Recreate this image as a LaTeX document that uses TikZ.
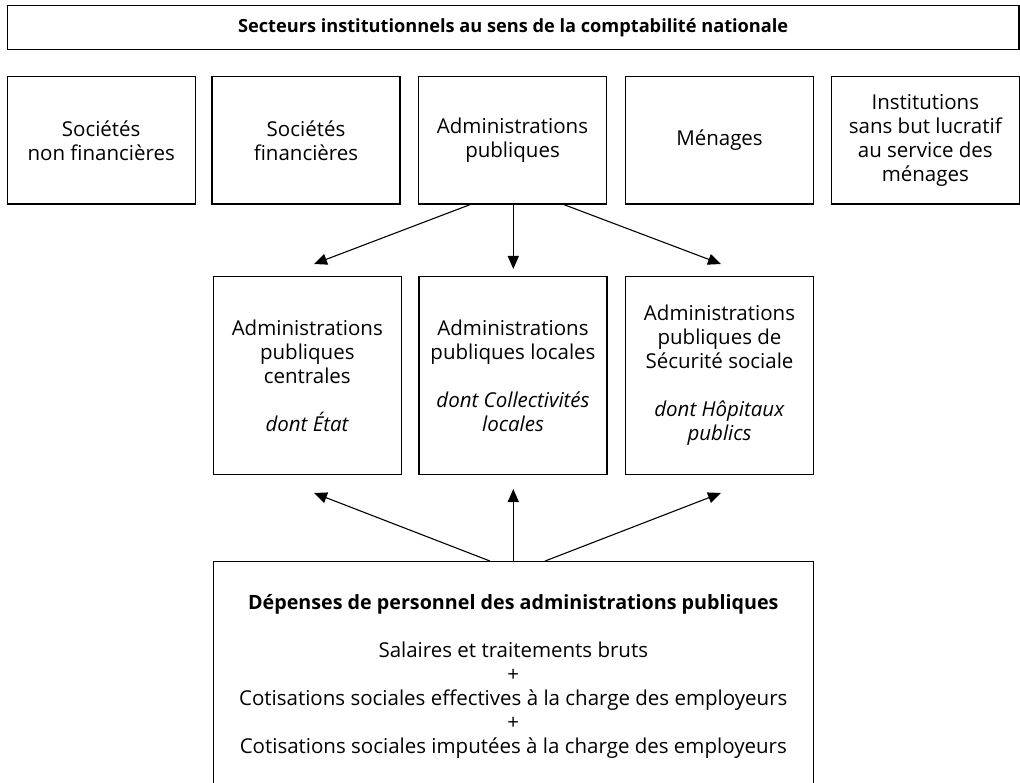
\documentclass[tikz,border=0pt]{standalone}
\usepackage{fontspec}
\setmainfont{Open Sans}
\usetikzlibrary{arrows.meta}
\begin{document}
\begin{tikzpicture}[x=1pt,y=-1pt,
  box/.style={draw, line width=1.3pt, inner sep=0pt, align=center,
    font=\fontsize{20.5}{24}\selectfont},
  rowbox/.style={box, minimum width=188pt, minimum height=127.3pt},
  midbox/.style={box, minimum width=188pt, minimum height=197.6pt},
  arr/.style={line width=1.1pt, -{Triangle[length=13pt,width=11pt]}}]
\clip (0,0) rectangle (1020,783);
\fill[white] (0,0) rectangle (1020,783);
% title
\node[box, minimum width=1011.7pt, minimum height=44pt, font=\fontsize{18.2}{24}\selectfont\bfseries] (title) at (513.15,27.7)
  {Secteurs institutionnels au sens de la comptabilité nationale};
% top row
\node[rowbox] (snf) at (101.2,140.35) {Sociétés\\non financières};
\node[rowbox] (sf) at (306,140.35) {Sociétés\\financières};
\node[rowbox] (ap) at (512.5,140.35) {Administrations\\publiques};
\node[rowbox] (men) at (719.5,140.35) {Ménages};
\node[rowbox] (isbl) at (925.3,140.35) {Institutions\\sans but lucratif\\au service des\\ménages};
% middle row
\node[midbox] (apc) at (307.3,375.5) {Administrations\\publiques\\centrales\\[24pt]\textit{dont État}};
\node[midbox] (apl) at (513,375.5) {Administrations\\publiques locales\\[24pt]\textit{dont Collectivités}\\\textit{locales}};
\node[midbox] (ass) at (719.5,375.5) {Administrations\\publiques de\\Sécurité sociale\\[24pt]\textit{dont Hôpitaux}\\\textit{publics}};
% bottom box
\node[box, minimum width=600pt, minimum height=230pt] (dep) at (513.3,676.7)
  {{\fontsize{19.7}{24}\selectfont\bfseries Dépenses de personnel des administrations publiques}\\[24pt]
   Salaires et traitements bruts\\+\\Cotisations sociales effectives à la charge des employeurs\\+\\Cotisations sociales imputées à la charge des employeurs};
% arrow tips
\coordinate (t1) at (314,264);
\coordinate (t2) at (513.3,269);
\coordinate (t3) at (721,264);
\coordinate (u1) at (314,493);
\coordinate (u2) at (513.3,489);
\coordinate (u3) at (721,493);
% arrows from Administrations publiques
\draw[arr] ([xshift=-42.5pt]ap.south) -- (t1);
\draw[arr] ([xshift=0.8pt]ap.south) -- (t2);
\draw[arr] ([xshift=51.5pt]ap.south) -- (t3);
% arrows from Dépenses
\draw[arr] ([xshift=-23.3pt]dep.north) -- (u1);
\draw[arr] (dep.north) -- (u2);
\draw[arr] ([xshift=31.7pt]dep.north) -- (u3);
\end{tikzpicture}
\end{document}
